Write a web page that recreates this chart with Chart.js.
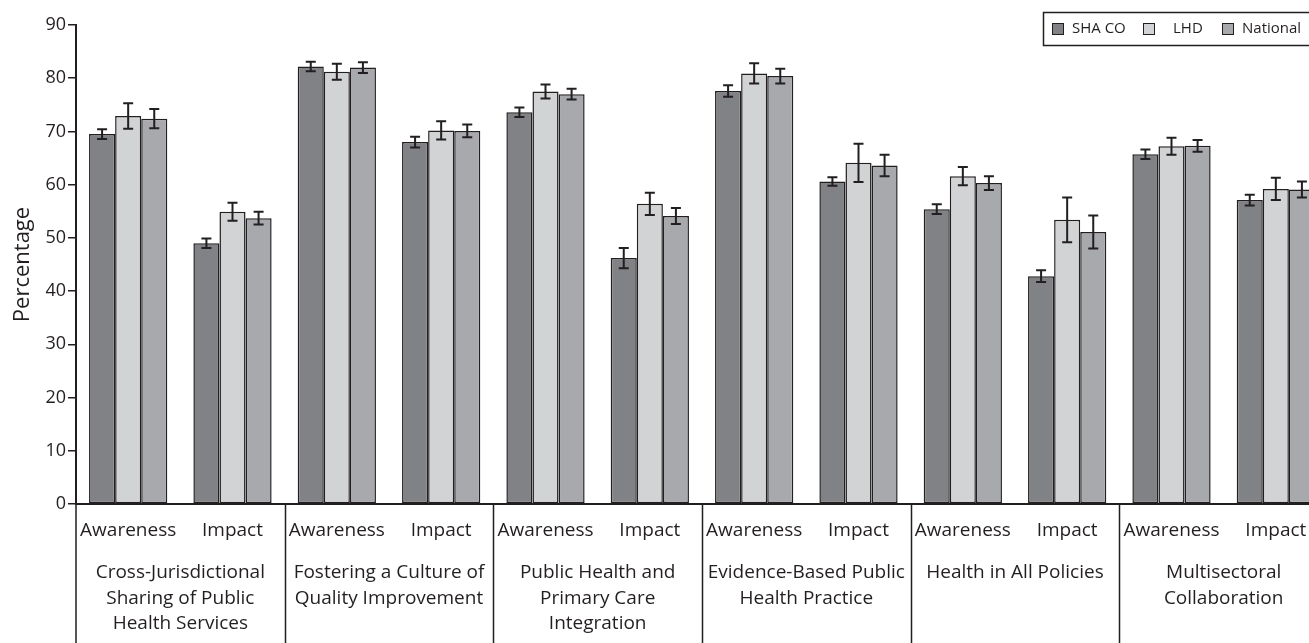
<!DOCTYPE html>
<html>
<head>
<meta charset="utf-8">
<script src="https://cdn.jsdelivr.net/npm/chart.js@4.4.0/dist/chart.umd.min.js"></script>
<style>
  html, body { margin: 0; padding: 0; overflow: hidden; background: #fff; }
  #wrap { width: 1330px; height: 643px; }
</style>
</head>
<body>
<div id="wrap"><canvas id="chart" width="1330" height="643"></canvas></div>
<script>
const categories = ["Awareness", "Impact", "Awareness", "Impact", "Awareness", "Impact",
                    "Awareness", "Impact", "Awareness", "Impact", "Awareness", "Impact"];
const groupLabels = [
  ["Cross-Jurisdictional", "Sharing of Public", "Health Services"],
  ["Fostering a Culture of", "Quality Improvement"],
  ["Public Health and", "Primary Care", "Integration"],
  ["Evidence-Based Public", "Health Practice"],
  ["Health in All Policies"],
  ["Multisectoral", "Collaboration"]
];
const seriesNames = ["SHA CO", "LHD", "National"];
const shaCo = [69.5, 49.0, 82.2, 68.0, 73.6, 46.2, 77.6, 60.6, 55.4, 42.8, 65.7, 57.1];
const shaCoErr = [0.9, 0.9, 0.9, 1.0, 0.9, 1.9, 1.1, 0.8, 0.9, 1.1, 0.9, 1.0];
const lhd = [72.9, 54.9, 81.2, 70.2, 77.5, 56.4, 80.9, 64.1, 61.6, 53.4, 67.2, 59.2];
const lhdErr = [2.4, 1.7, 1.5, 1.7, 1.3, 2.1, 1.9, 3.6, 1.7, 4.2, 1.6, 2.1];
const national = [72.4, 53.7, 82.0, 70.1, 77.0, 54.1, 80.4, 63.6, 60.3, 51.1, 67.3, 59.1];
const nationalErr = [1.8, 1.2, 1.0, 1.2, 1.0, 1.5, 1.4, 2.0, 1.3, 3.1, 1.1, 1.5];
const yTicks = [0, 10, 20, 30, 40, 50, 60, 70, 80, 90];

const INK = "#231f20";
const FONT = "'Open Sans', sans-serif";
const fills = ["#808285", "#d1d3d4", "#a7a9ac"];
const errors = [shaCoErr, lhdErr, nationalErr];

// error bars, two-level x labels, separators, boxed legend
const extras = {
  id: "extras",
  afterDatasetsDraw(chart) {
    const ctx = chart.ctx;
    const y = chart.scales.y;
    ctx.save();
    ctx.strokeStyle = INK;
    ctx.lineWidth = 2;
    chart.data.datasets.forEach((ds, i) => {
      chart.getDatasetMeta(i).data.forEach((bar, j) => {
        const v = ds.data[j], e = errors[i][j];
        const yt = y.getPixelForValue(v + e), yb = y.getPixelForValue(v - e);
        ctx.beginPath();
        ctx.moveTo(bar.x, yt); ctx.lineTo(bar.x, yb);
        ctx.moveTo(bar.x - 5, yt); ctx.lineTo(bar.x + 5, yt);
        ctx.moveTo(bar.x - 5, yb); ctx.lineTo(bar.x + 5, yb);
        ctx.stroke();
      });
    });
    ctx.restore();
  },
  afterDraw(chart) {
    const ctx = chart.ctx;
    const x = chart.scales.x;
    const area = chart.chartArea;
    const H = chart.height;
    const step = (area.right - area.left) / categories.length;
    ctx.save();
    ctx.strokeStyle = INK;
    ctx.fillStyle = INK;
    ctx.lineWidth = 1.5;

    // axis extension + separators
    ctx.beginPath();
    ctx.moveTo(area.left, area.bottom); ctx.lineTo(area.left, H);
    for (let g = 1; g < groupLabels.length; g++) {
      const sx = Math.round(area.left + g * 2 * step) + 0.5;
      ctx.moveTo(sx, area.bottom); ctx.lineTo(sx, H);
    }
    ctx.stroke();

    ctx.textAlign = "center";
    ctx.textBaseline = "middle";
    ctx.font = "19px " + FONT;
    categories.forEach((c, i) => {
      ctx.fillText(c, x.getPixelForValue(i), area.bottom + 27);
    });
    groupLabels.forEach((lines, g) => {
      const cx = area.left + (g * 2 + 1) * step;
      lines.forEach((t, k) => ctx.fillText(t, cx, area.bottom + 69 + k * 25.5));
    });

    // legend box
    const lx = 1043, ly = 12, lw = 300, lh = 33;
    ctx.lineWidth = 1.5;
    ctx.strokeRect(lx + 0.5, ly + 0.5, lw, lh);
    const sq = [1052, 1143, 1222];
    const tx = [1072, 1173, 1242];
    ctx.font = "15px " + FONT;
    ctx.textAlign = "left";
    seriesNames.forEach((n, i) => {
      ctx.fillStyle = fills[i];
      ctx.fillRect(sq[i], ly + 11, 12, 12);
      ctx.lineWidth = 1;
      ctx.strokeRect(sq[i] + 0.5, ly + 11.5, 11, 11);
      ctx.fillStyle = INK;
      ctx.fillText(n, tx[i], ly + 17);
    });
    ctx.restore();
  }
};

new Chart(document.getElementById("chart"), {
  type: "bar",
  data: {
    labels: categories,
    datasets: [shaCo, lhd, national].map((d, i) => ({
      label: seriesNames[i],
      data: d,
      backgroundColor: fills[i],
      borderColor: INK,
      borderWidth: 1.5,
      borderSkipped: false,
      categoryPercentage: 0.75,
      barPercentage: 1.0
    }))
  },
  options: {
    responsive: false,
    animation: false,
    layout: { padding: { top: 25, right: 2, bottom: 139, left: 0 } },
    plugins: { legend: { display: false }, tooltip: { enabled: false } },
    scales: {
      x: {
        grid: { display: false, drawTicks: false },
        ticks: { display: false },
        border: { display: true, color: INK, width: 2 }
      },
      y: {
        min: 0,
        max: 90,
        afterBuildTicks: (s) => { s.ticks = yTicks.map(v => ({ value: v })); },
        afterFit: (s) => { s.width = 76; },
        grid: { drawOnChartArea: false, color: INK, tickLength: 8, lineWidth: 1.5 },
        border: { display: true, color: INK, width: 2 },
        ticks: { color: INK, font: { family: FONT, size: 18 }, padding: 2 },
        title: { display: true, text: "Percentage", color: INK, font: { family: FONT, size: 22 }, padding: { top: 10, bottom: 0 } }
      }
    }
  },
  plugins: [extras]
});
</script>
</body>
</html>
